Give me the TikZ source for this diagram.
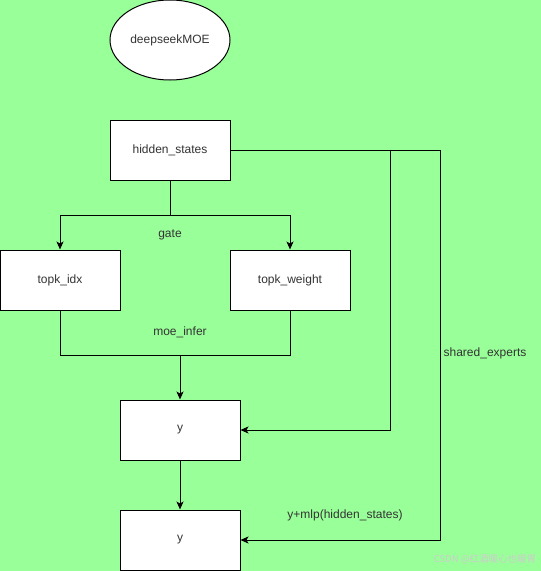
\documentclass[tikz,border=0pt]{standalone}
\usepackage{fontspec}
\setmainfont{Liberation Sans}
\newfontfamily\cjk{Noto Sans CJK SC}
\usetikzlibrary{arrows.meta,shapes.geometric}
\definecolor{bggreen}{HTML}{99FF99}
\definecolor{txtgray}{HTML}{333333}
\tikzset{
  boxnode/.style={draw=black,fill=white,line width=1pt,minimum width=120pt,minimum height=60pt,inner sep=0pt,font=\fontsize{12}{14}\selectfont,text=txtgray},
  ellnode/.style={ellipse,draw=black,fill=white,line width=1pt,minimum width=120pt,minimum height=80pt,inner sep=0pt,font=\fontsize{12}{14}\selectfont,text=txtgray},
  conn/.style={line width=1pt,draw=black},
  arr/.style={conn,-{Stealth[length=8pt,width=7pt,inset=2pt]}},
  lbl/.style={font=\fontsize{12}{14}\selectfont,text=txtgray,inner sep=0pt}
}
\begin{document}
\begin{tikzpicture}[x=1pt,y=-1pt]
\fill[bggreen] (0,0) rectangle (541,571);
\useasboundingbox (0,0) rectangle (541,571);
\node[ellnode] (moe) at (170,40) {deepseekMOE};
\node[boxnode] (hs) at (170,150) {hidden\_states};
\node[boxnode] (idx) at (60,280) {topk\_idx};
\node[boxnode] (wt) at (290,280) {topk\_weight};
\node[boxnode] (y1) at (180,430) {y};
\node[boxnode] (y2) at (180,540) {y};
\coordinate (gsplit) at (170,215);
\coordinate (msplit) at (180,355);
\draw[conn] (hs.south) -- (gsplit);
\draw[arr] (gsplit) -| (idx.north);
\draw[arr] (gsplit) -| (wt.north);
\draw[conn] (idx.south) |- (msplit);
\draw[conn] (wt.south) |- (msplit);
\draw[arr] (msplit) -- (y1.north);
\draw[arr] (y1.south) -- (y2.north);
\coordinate (rc) at (440,150);
\coordinate (bc) at (390,150);
\draw[conn] (hs.east) -- (rc);
\draw[arr] (rc) |- (y2.east);
\draw[arr] (bc) |- (y1.east);
\node[lbl] (gl) at (170,235) {gate};
\node[lbl] (ml) at (180,332) {moe\_infer};
\node[lbl] (sl) at (485,353) {shared\_experts};
\node[lbl] (yl) at (345,515) {y+mlp(hidden\_states)};
\node[font=\cjk\fontsize{9.5}{11}\selectfont,text=black!20,inner sep=0pt] (wm) at (485,559) {CSDN @红酒暖心也暖胃};
\end{tikzpicture}
\end{document}
